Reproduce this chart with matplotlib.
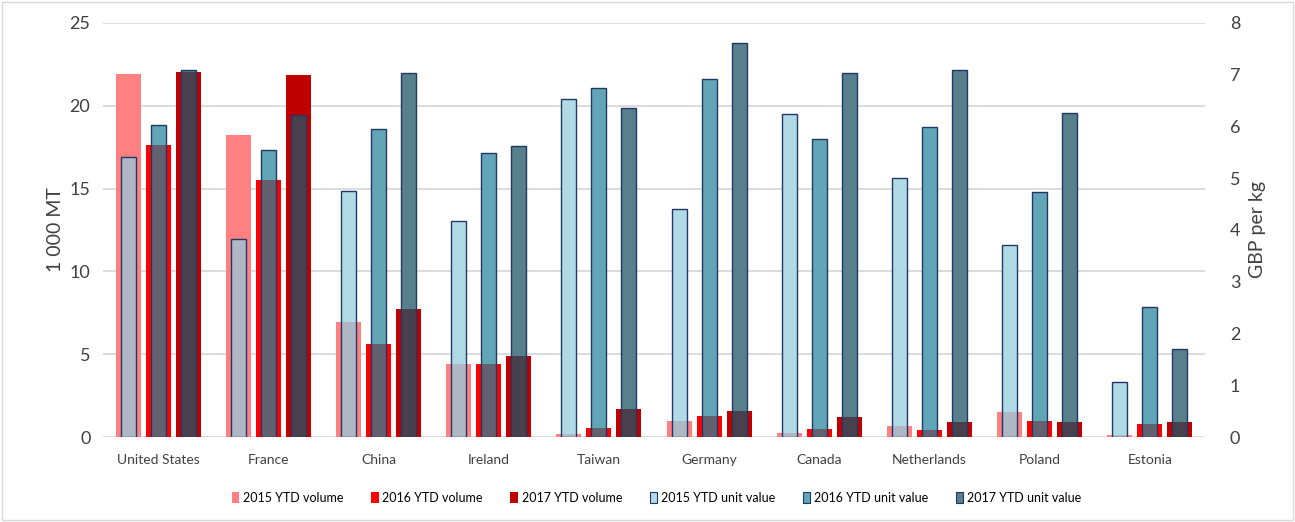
import numpy as np
import matplotlib
matplotlib.use("Agg")
import matplotlib.pyplot as plt
from matplotlib.patches import Patch, Rectangle

plt.rcParams["font.family"] = ["Lato", "DejaVu Sans"]

countries = ["United States", "France", "China", "Ireland", "Taiwan",
             "Germany", "Canada", "Netherlands", "Poland", "Estonia"]

# volume, 1 000 MT (left axis)
vol_2015 = [21.9, 18.2, 6.95, 4.40, 0.20, 0.98, 0.24, 0.68, 1.53, 0.14]
vol_2016 = [17.6, 15.5, 5.62, 4.42, 0.56, 1.30, 0.50, 0.46, 0.96, 0.82]
vol_2017 = [22.0, 21.85, 7.75, 4.88, 1.70, 1.57, 1.20, 0.94, 0.92, 0.92]

# unit value, GBP per kg (right axis)
uv_2015 = [5.40, 3.83, 4.76, 4.18, 6.53, 4.41, 6.23, 5.01, 3.72, 1.07]
uv_2016 = [6.02, 5.55, 5.95, 5.49, 6.74, 6.92, 5.76, 5.99, 4.73, 2.51]
uv_2017 = [7.09, 6.22, 7.02, 5.62, 6.35, 7.60, 7.02, 7.09, 6.26, 1.70]

years = ["2015", "2016", "2017"]
vol_colors = ["#ff8080", "#ff0000", "#c00000"]
uv_colors = ["#b0dae6", "#62a5b7", "#577f8c"]
overlap_colors = ["#afb7c4", "#63616f", "#48414d"]
edge = "#1f3864"

vols = [vol_2015, vol_2016, vol_2017]
uvs = [uv_2015, uv_2016, uv_2017]

fig = plt.figure(figsize=(12.95, 5.22), dpi=100)
ax = fig.add_axes([0.0795, 0.1623, 0.851, 0.7942])
ax2 = ax.twinx()

x = np.arange(len(countries))
step = 0.272
vol_w = 0.227
uv_w = 0.136

ax.set_ylim(0, 25)
ax2.set_ylim(0, 8)
ax.set_xlim(-0.5, len(countries) - 0.5)
scale = ax2.get_ylim()[1] / ax.get_ylim()[1]

for i in range(3):
    pos = x + (i - 1) * step
    ax.bar(pos, vols[i], width=vol_w, color=vol_colors[i], zorder=2)
    ax2.bar(pos, uvs[i], width=uv_w, color=uv_colors[i], zorder=2)
    # where a unit-value bar sits over its volume bar the colours mix
    overlap = np.minimum(uvs[i], np.array(vols[i]) * scale)
    ax2.bar(pos, overlap, width=uv_w, color=overlap_colors[i], zorder=3)
    ax2.bar(pos, uvs[i], width=uv_w, fill=False, edgecolor=edge,
            linewidth=1.0, zorder=4)

# grid and axes
ax.set_yticks(np.arange(0, 26, 5))
ax2.set_yticks(np.arange(0, 9, 1))
ax.grid(axis="y", color="#d9d9d9", linewidth=1.3, zorder=0)
ax.set_axisbelow(True)
for a in (ax, ax2):
    for s in a.spines.values():
        s.set_visible(False)
    a.tick_params(length=0)
ax.set_xticks(x)
ax.set_xticklabels(countries, fontsize=10, color="#404040")
ax.tick_params(axis="x", pad=12)
ax.tick_params(axis="y", labelsize=13, colors="#404040", pad=9)
ax2.tick_params(axis="y", labelsize=13, colors="#404040", pad=18)
ax.set_ylabel("1 000 MT", fontsize=14, color="#404040", labelpad=4)
ax2.set_ylabel("GBP per kg", fontsize=14, color="#404040", labelpad=6)

handles = [Patch(facecolor=c, edgecolor="none") for c in vol_colors]
handles += [Patch(facecolor=c, edgecolor=edge, linewidth=0.8) for c in uv_colors]
labels = [f"{y} YTD volume" for y in years] + [f"{y} YTD unit value" for y in years]
fig.legend(handles, labels, loc="center", bbox_to_anchor=(0.507, 0.046),
           ncol=6, frameon=False, handlelength=0.6,
           handleheight=0.9, handletextpad=0.3, columnspacing=2.2,
           prop={"family": ["Lato", "DejaVu Sans"], "size": 9})

fig.patches.append(Rectangle((0.0015, 0.003), 0.997, 0.994, transform=fig.transFigure,
                             fill=False, edgecolor="#d9d9d9", linewidth=1))

fig.savefig("out.png", dpi=100)
